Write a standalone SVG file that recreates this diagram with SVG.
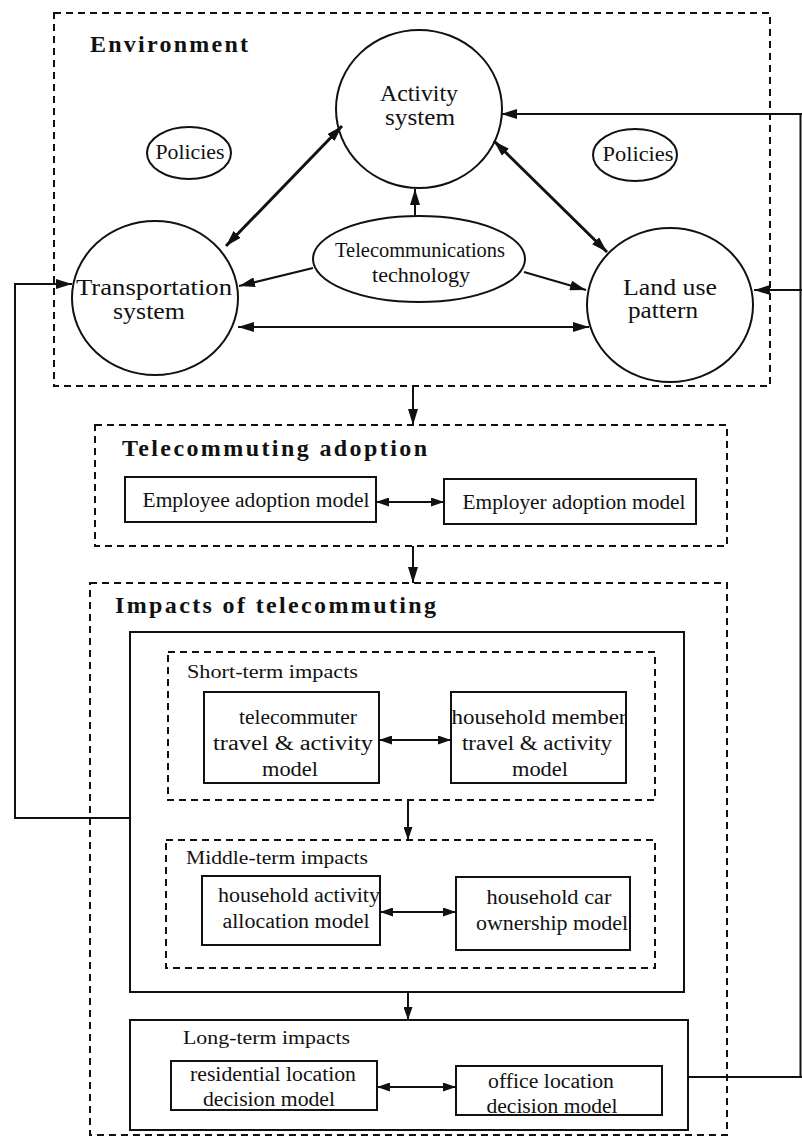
<svg xmlns="http://www.w3.org/2000/svg" width="802" height="1140" viewBox="0 0 802 1140">
<style>
.dash{fill:none;stroke:#111;stroke-width:2;stroke-dasharray:7 5}
.solid{fill:none;stroke:#111;stroke-width:2}
.box{fill:#fff;stroke:#111;stroke-width:2}
.line{fill:none;stroke:#111;stroke-width:2}
.thick{fill:none;stroke:#111;stroke-width:3}
text{font-family:"Liberation Serif","Times New Roman",serif;fill:#111}
.h{font-weight:bold;font-size:24px}
.t{font-size:23px;text-anchor:middle}
.s{font-size:20px;text-anchor:middle}
.l{font-size:19px}
</style>
<defs>
<marker id="ah" viewBox="0 0 16 10" refX="16" refY="5" markerWidth="16" markerHeight="10" orient="auto-start-reverse" markerUnits="userSpaceOnUse">
<path d="M0,0 L16,5 L0,10 z" fill="#111"/>
</marker>
<marker id="as" viewBox="0 0 13 9" refX="13" refY="4.5" markerWidth="13" markerHeight="9" orient="auto-start-reverse" markerUnits="userSpaceOnUse">
<path d="M0,0 L13,4.5 L0,9 z" fill="#111"/>
</marker>
</defs>

<g id="environment">
<rect class="dash" x="54" y="13" width="716" height="373"/>
<text class="h" x="90" y="52" textLength="158" lengthAdjust="spacing">Environment</text>
</g>
<g id="activity">
<ellipse class="solid" cx="419" cy="109" rx="83" ry="79"/>
<text class="t" x="419" y="101" textLength="78" lengthAdjust="spacingAndGlyphs">Activity</text>
<text class="t" x="420" y="125" textLength="70" lengthAdjust="spacingAndGlyphs">system</text>
</g>
<g id="policies-left">
<ellipse class="solid" cx="189" cy="153" rx="42" ry="26"/>
<text class="s" x="190" y="159" textLength="69" lengthAdjust="spacingAndGlyphs">Policies</text>
</g>
<g id="policies-right">
<ellipse class="solid" cx="635" cy="155" rx="42" ry="26"/>
<text class="s" x="638" y="161" textLength="71" lengthAdjust="spacingAndGlyphs">Policies</text>
</g>
<g id="transportation">
<ellipse class="solid" cx="155" cy="298" rx="83" ry="77"/>
<text class="t" x="154" y="295" textLength="156" lengthAdjust="spacingAndGlyphs">Transportation</text>
<text class="t" x="149" y="319" textLength="72" lengthAdjust="spacingAndGlyphs">system</text>
</g>
<g id="telecom">
<ellipse class="solid" cx="419" cy="259" rx="106" ry="43"/>
<text class="s" x="420" y="257" textLength="170" lengthAdjust="spacingAndGlyphs">Telecommunications</text>
<text class="s" x="421" y="282" textLength="98" lengthAdjust="spacingAndGlyphs">technology</text>
</g>
<g id="landuse">
<ellipse class="solid" cx="670" cy="305" rx="83" ry="77"/>
<text class="t" x="670" y="295" textLength="94" lengthAdjust="spacingAndGlyphs">Land use</text>
<text class="t" x="663" y="318" textLength="70" lengthAdjust="spacingAndGlyphs">pattern</text>
</g>

<g id="adoption">
<rect class="dash" x="95" y="425" width="632" height="121"/>
<text class="h" x="122" y="456" textLength="305" lengthAdjust="spacing">Telecommuting adoption</text>
</g>
<g id="employee">
<rect class="box" x="125" y="477" width="251" height="45"/>
<text class="s" x="256" y="507" textLength="227" lengthAdjust="spacingAndGlyphs">Employee adoption model</text>
</g>
<g id="employer">
<rect class="box" x="444" y="479" width="252" height="45"/>
<text class="s" x="574" y="509" textLength="223" lengthAdjust="spacingAndGlyphs">Employer adoption model</text>
</g>

<g id="impacts">
<rect class="dash" x="90" y="583" width="637" height="552"/>
<text class="h" x="115" y="613" textLength="321" lengthAdjust="spacing">Impacts of telecommuting</text>
</g>
<g id="short-middle">
<rect class="solid" x="130" y="632" width="554" height="360"/>
</g>
<g id="short-term">
<rect class="dash" x="168" y="652" width="487" height="148"/>
<text class="l" x="187" y="678" textLength="171" lengthAdjust="spacingAndGlyphs">Short-term impacts</text>
</g>
<g id="telecommuter">
<rect class="box" x="204" y="692" width="175" height="91"/>
<text class="s" x="298" y="724" textLength="118" lengthAdjust="spacingAndGlyphs">telecommuter</text>
<text class="s" x="293" y="750" textLength="160" lengthAdjust="spacingAndGlyphs">travel &amp; activity</text>
<text class="s" x="290" y="776" textLength="56" lengthAdjust="spacingAndGlyphs">model</text>
</g>
<g id="household-member">
<rect class="box" x="451" y="692" width="175" height="91"/>
<text class="s" x="539" y="724" textLength="175" lengthAdjust="spacingAndGlyphs">household member</text>
<text class="s" x="537" y="750" textLength="150" lengthAdjust="spacingAndGlyphs">travel &amp; activity</text>
<text class="s" x="540" y="776" textLength="56" lengthAdjust="spacingAndGlyphs">model</text>
</g>
<g id="middle-term">
<rect class="dash" x="166" y="840" width="489" height="128"/>
<text class="l" x="186" y="864" textLength="182" lengthAdjust="spacingAndGlyphs">Middle-term impacts</text>
</g>
<g id="household-activity">
<rect class="box" x="202" y="876" width="178" height="69"/>
<text class="s" x="299" y="902" textLength="162" lengthAdjust="spacingAndGlyphs">household activity</text>
<text class="s" x="296" y="928" textLength="147" lengthAdjust="spacingAndGlyphs">allocation model</text>
</g>
<g id="car-ownership">
<rect class="box" x="456" y="877" width="174" height="73"/>
<text class="s" x="549" y="904" textLength="125" lengthAdjust="spacingAndGlyphs">household car</text>
<text class="s" x="552" y="930" textLength="152" lengthAdjust="spacingAndGlyphs">ownership model</text>
</g>
<g id="long-term">
<rect class="solid" x="130" y="1020" width="558" height="110"/>
<text class="l" x="183" y="1044" textLength="167" lengthAdjust="spacingAndGlyphs">Long-term impacts</text>
</g>
<g id="residential">
<rect class="box" x="171" y="1061" width="206" height="49"/>
<text class="s" x="273" y="1081" textLength="166" lengthAdjust="spacingAndGlyphs">residential location</text>
<text class="s" x="269" y="1106" textLength="132" lengthAdjust="spacingAndGlyphs">decision model</text>
</g>
<g id="office">
<rect class="box" x="456" y="1066" width="206" height="49"/>
<text class="s" x="551" y="1088" textLength="126" lengthAdjust="spacingAndGlyphs">office location</text>
<text class="s" x="552" y="1113" textLength="131" lengthAdjust="spacingAndGlyphs">decision model</text>
</g>

<g id="connectors">
<line class="thick" x1="342" y1="126" x2="226" y2="246" marker-start="url(#ah)" marker-end="url(#ah)"/>
<line class="thick" x1="494" y1="141" x2="607" y2="252" marker-start="url(#ah)" marker-end="url(#ah)"/>
<line class="line" x1="415" y1="216" x2="415" y2="189" marker-end="url(#ah)"/>
<line class="line" x1="313" y1="268" x2="239" y2="286" marker-end="url(#ah)"/>
<line class="line" x1="524" y1="272" x2="586" y2="290" marker-end="url(#ah)"/>
<line class="line" x1="238" y1="327" x2="589" y2="327" marker-start="url(#ah)" marker-end="url(#ah)"/>
<line class="line" x1="802" y1="114" x2="501" y2="114" marker-end="url(#ah)"/>
<line class="line" x1="802" y1="290" x2="754" y2="290" marker-end="url(#ah)"/>
<line class="line" x1="800.5" y1="114" x2="800.5" y2="1077"/>
<polyline class="line" points="130,818 15,818 15,284 72,284" marker-end="url(#ah)"/>
<line class="line" x1="413" y1="386" x2="413" y2="425" marker-end="url(#ah)"/>
<line class="line" x1="376" y1="502" x2="444" y2="502" marker-start="url(#as)" marker-end="url(#as)"/>
<line class="line" x1="413" y1="546" x2="413" y2="583" marker-end="url(#ah)"/>
<line class="line" x1="379" y1="740" x2="451" y2="740" marker-start="url(#as)" marker-end="url(#as)"/>
<line class="line" x1="408" y1="800" x2="408" y2="840" marker-end="url(#as)"/>
<line class="line" x1="380" y1="912" x2="456" y2="912" marker-start="url(#as)" marker-end="url(#as)"/>
<line class="line" x1="408" y1="992" x2="408" y2="1020" marker-end="url(#as)"/>
<line class="line" x1="377" y1="1087" x2="456" y2="1087" marker-start="url(#as)" marker-end="url(#as)"/>
<line class="line" x1="688" y1="1077" x2="802" y2="1077"/>
</g>
</svg>
